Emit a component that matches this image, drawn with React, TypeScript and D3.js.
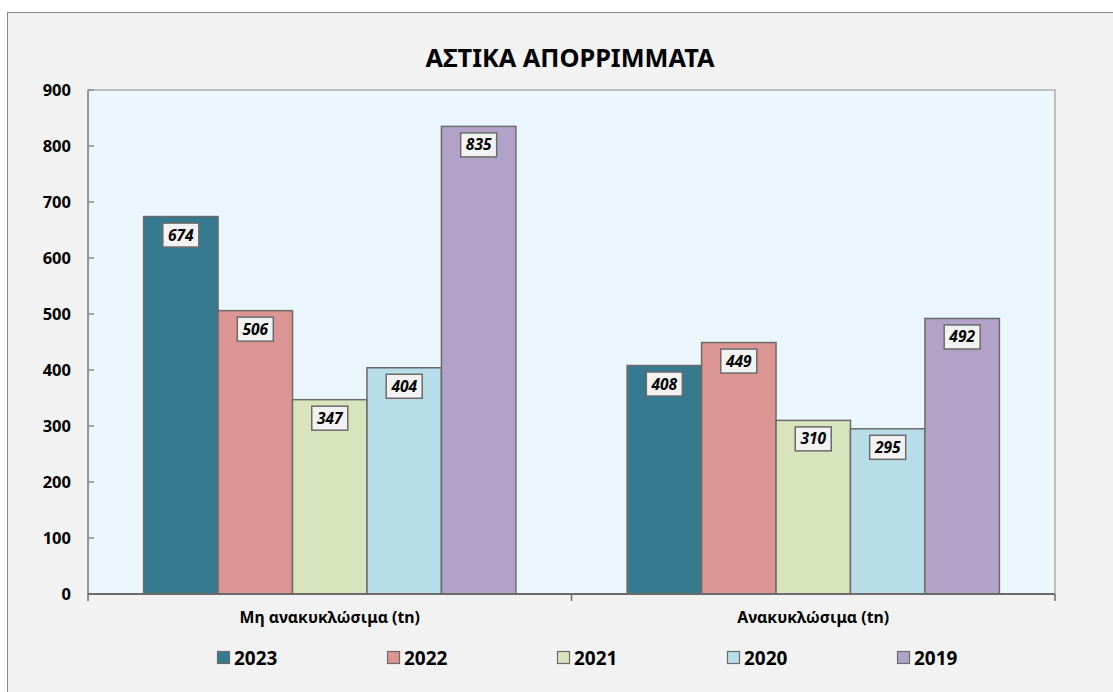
import React from 'react'
import * as d3 from 'd3'

const categories = ['Μη ανακυκλώσιμα (tn)', 'Ανακυκλώσιμα (tn)']
const years = ['2023', '2022', '2021', '2020', '2019']
const values2023 = [674, 408]
const values2022 = [506, 449]
const values2021 = [347, 310]
const values2020 = [404, 295]
const values2019 = [835, 492]
const yTicks = [0, 100, 200, 300, 400, 500, 600, 700, 800, 900]

const seriesValues = [values2023, values2022, values2021, values2020, values2019]
const colors = ['#367a8f', '#db9694', '#d8e4bc', '#b7dde8', '#b3a2c7']

const W = 1113
const H = 692
const plot = { left: 88, top: 90, right: 1055, bottom: 594 }
const FONT = '"Noto Sans", "DejaVu Sans", sans-serif'
const border = '#6b6b6b'

export default function App() {
  const y = d3.scaleLinear().domain([0, 900]).range([plot.bottom, plot.top])
  const x0 = d3.scaleBand().domain(categories).range([plot.left, plot.right])

  // bars of one category take ~77% of its band, centred
  const groupW = x0.bandwidth() * 0.77
  const inner = d3
    .scaleBand()
    .domain(years)
    .range([(x0.bandwidth() - groupW) / 2, (x0.bandwidth() + groupW) / 2])

  return (
    <svg width={W} height={H} style={{ position: 'absolute', left: 0, top: 0 }} fontFamily={FONT}>
      <rect x={0} y={0} width={W} height={H} fill="#ffffff" />
      <rect x={7.5} y={12.5} width={W + 10} height={H + 10} fill="#f2f2f2" stroke="#8a8a8a" strokeWidth={1} />

      <text x={570} y={67} textAnchor="middle" fontSize={25.3} fontWeight="bold" fill="#000">
        ΑΣΤΙΚΑ ΑΠΟΡΡΙΜΜΑΤΑ
      </text>

      {/* plot area */}
      <rect
        x={plot.left}
        y={plot.top}
        width={plot.right - plot.left}
        height={plot.bottom - plot.top}
        fill="#eaf5fc"
        stroke="#8a8a8a"
        strokeWidth={1}
      />

      {/* y axis */}
      <line x1={plot.left} x2={plot.left} y1={plot.top} y2={plot.bottom} stroke="#8a8a8a" strokeWidth={1.5} />
      {yTicks.map(t => (
        <g key={t}>
          <line x1={plot.left} x2={plot.left + 6} y1={y(t)} y2={y(t)} stroke="#8a8a8a" strokeWidth={1.5} />
          <text x={71} y={y(t) + 6} textAnchor="end" fontSize={16.5} fontWeight="bold" fill="#000">
            {t}
          </text>
        </g>
      ))}

      {/* bars */}
      {categories.map((c, ci) => (
        <g key={c} transform={`translate(${x0(c)},0)`}>
          {years.map((yr, si) => {
            const v = seriesValues[si][ci]
            return (
              <rect
                key={yr}
                x={inner(yr) as number}
                y={y(v)}
                width={inner.bandwidth()}
                height={plot.bottom - y(v)}
                fill={colors[si]}
                stroke={border}
                strokeWidth={1.5}
              />
            )
          })}
        </g>
      ))}

      {/* data labels */}
      {categories.map((c, ci) => (
        <g key={c + '-lbl'} transform={`translate(${x0(c)},0)`}>
          {years.map((yr, si) => {
            const v = seriesValues[si][ci]
            const cx = (inner(yr) as number) + inner.bandwidth() / 2
            const top = y(v) + 6.5
            return (
              <g key={yr}>
                <rect x={cx - 18} y={top} width={36} height={24} fill="#f2f2f2" stroke={border} strokeWidth={1.5} />
                <text x={cx} y={top + 17.5} textAnchor="middle" fontSize={15.5} fontWeight="bold" fontStyle="italic" fill="#000">
                  {v}
                </text>
              </g>
            )
          })}
        </g>
      ))}

      {/* x axis */}
      <line x1={plot.left} x2={plot.right} y1={plot.bottom} y2={plot.bottom} stroke="#6b6b6b" strokeWidth={2} />
      {[plot.left, x0(categories[1]) as number, plot.right].map((tx, i) => (
        <line key={i} x1={tx} x2={tx} y1={plot.bottom} y2={plot.bottom + 7} stroke="#6b6b6b" strokeWidth={1.5} />
      ))}
      {categories.map(c => (
        <text
          key={c}
          x={(x0(c) as number) + x0.bandwidth() / 2}
          y={623}
          textAnchor="middle"
          fontSize={15.8}
          fontWeight="bold"
          fill="#000"
        >
          {c}
        </text>
      ))}

      {/* legend */}
      {years.map((yr, i) => {
        const lx = 217 + i * 170
        return (
          <g key={yr} transform={`translate(${lx},651)`}>
            <rect x={0.5} y={0.5} width={12} height={12} fill={colors[i]} stroke={border} strokeWidth={1.2} />
            <text x={17} y={13.5} fontSize={19} fontWeight="bold" fill="#000">
              {yr}
            </text>
          </g>
        )
      })}
    </svg>
  )
}
